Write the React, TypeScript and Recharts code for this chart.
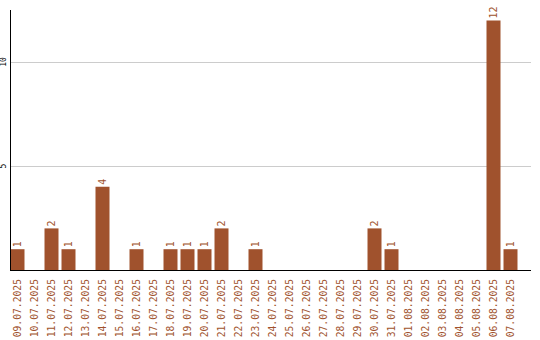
import { BarChart, Bar, XAxis, YAxis, CartesianGrid, LabelList } from 'recharts';

const days = [
  '09.07.2025', '10.07.2025', '11.07.2025', '12.07.2025', '13.07.2025', '14.07.2025',
  '15.07.2025', '16.07.2025', '17.07.2025', '18.07.2025', '19.07.2025', '20.07.2025',
  '21.07.2025', '22.07.2025', '23.07.2025', '24.07.2025', '25.07.2025', '26.07.2025',
  '27.07.2025', '28.07.2025', '29.07.2025', '30.07.2025', '31.07.2025', '01.08.2025',
  '02.08.2025', '03.08.2025', '04.08.2025', '05.08.2025', '06.08.2025', '07.08.2025',
];
const counts = [
  1, 0, 2, 1, 0, 4, 0, 1, 0, 1, 1, 1, 2, 0, 1, 0, 0, 0, 0, 0, 0, 2, 1, 0, 0, 0, 0, 0, 12, 1,
];
const yTicks = [5, 10];

const BAR = '#A0522D';
const FONT = '"DejaVu Sans Mono", "Liberation Mono", monospace';

const data = days.map((day, i) => ({ day, count: counts[i] }));

function DayTick({ x, y, payload }: any) {
  const ty = y + 7;
  return (
    <text
      x={x}
      y={ty}
      transform={`rotate(-90, ${x}, ${ty})`}
      textAnchor="end"
      dominantBaseline="central"
      fill={BAR}
      fontSize={9.7}
      fontFamily={FONT}
    >
      {payload.value}
    </text>
  );
}

function CountTick({ x, y, payload }: any) {
  const tx = x - 5;
  return (
    <text
      x={tx}
      y={y}
      transform={`rotate(-90, ${tx}, ${y})`}
      textAnchor="middle"
      dominantBaseline="central"
      fill="#000"
      fontSize={8}
      fontFamily={FONT}
    >
      {payload.value}
    </text>
  );
}

function ValueLabel({ x, y, width, value }: any) {
  if (!value) return null;
  const cx = x + width / 2;
  const ty = y - 2;
  return (
    <text
      x={cx}
      y={ty}
      transform={`rotate(-90, ${cx}, ${ty})`}
      textAnchor="start"
      dominantBaseline="central"
      fill={BAR}
      fontSize={10}
      fontFamily={FONT}
    >
      {value}
    </text>
  );
}

const axisStroke = { stroke: '#000', shapeRendering: 'crispEdges' };

export default function App() {
  return (
    <div style={{ position: 'absolute', left: 0, top: 0, background: '#fff' }}>
      <BarChart
        width={540}
        height={340}
        data={data}
        margin={{ top: 10, right: 9, bottom: 0, left: 0 }}
        barSize={14}
      >
        <CartesianGrid
          vertical={false}
          stroke="#cccccc"
          horizontalValues={yTicks}
          shapeRendering="crispEdges"
        />
        <XAxis
          dataKey="day"
          height={70}
          interval={0}
          tick={<DayTick />}
          tickLine={false}
          tickSize={0}
          axisLine={axisStroke}
          padding={{ left: -1.5, right: 12.5 }}
        />
        <YAxis
          width={10}
          domain={[0, 12.5]}
          ticks={yTicks}
          tick={<CountTick />}
          tickLine={false}
          tickSize={0}
          axisLine={axisStroke}
        />
        <Bar dataKey="count" fill={BAR} isAnimationActive={false}>
          <LabelList dataKey="count" content={<ValueLabel />} />
        </Bar>
      </BarChart>
    </div>
  );
}
